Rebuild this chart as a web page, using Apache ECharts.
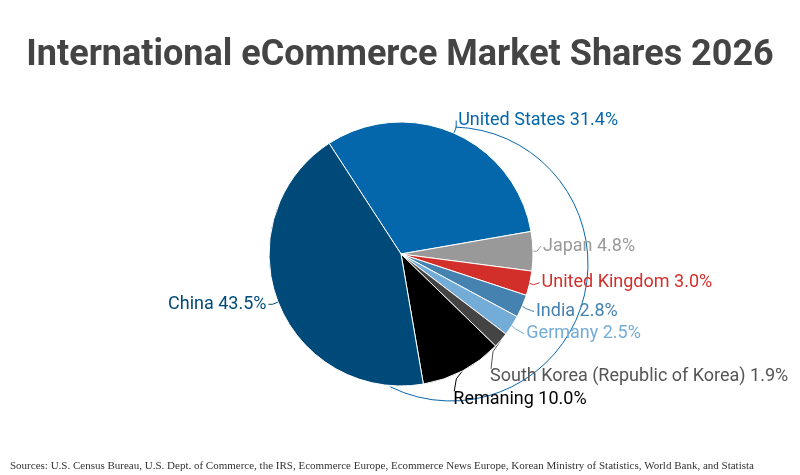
<!DOCTYPE html>
<html>
<head>
<meta charset="utf-8">
<script src="https://cdn.jsdelivr.net/npm/echarts@6/dist/echarts.min.js"></script>
<style>
  html, body { margin: 0; padding: 0; background: #fff; }
  #chart { width: 800px; height: 475px; }
</style>
</head>
<body>
<div id="chart"></div>
<script>
// market shares, clockwise from the top-left
const countries = ['United States', 'Japan', 'United Kingdom', 'India', 'Germany',
  'South Korea (Republic of Korea)', 'Remaning', 'China'];
const shares = [31.4, 4.8, 3.0, 2.8, 2.5, 1.9, 10.0, 43.5];
const sliceColors = ['#0567ab', '#999999', '#d32f2a', '#4682b0', '#74acd8', '#444444', '#000000', '#004a7a'];
const labelColors = ['#0567ab', '#999999', '#d32f2a', '#4682b0', '#74acd8', '#555555', '#000000', '#004a7a'];

const chart = echarts.init(document.getElementById('chart'));

const cx = 401, cy = 254, radius = 132;

// nudges for labels, to sit them where the original put them
const labelNudge = {
  0: [-4, -7],
  1: [0, -5],
  2: [2, -2],
  3: [4, 3],
  4: [5, 5],
  5: [-16, 28],
  6: [-18, 23]
};

chart.setOption({
  animation: false,
  title: [{
    text: 'International eCommerce Market Shares 2026',
    left: 'center',
    top: 33,
    textStyle: { fontFamily: 'Roboto', fontSize: 36, fontWeight: 'bold', color: '#444444' }
  }, {
    text: 'Sources: U.S. Census Bureau, U.S. Dept. of Commerce, the IRS, Ecommerce Europe, Ecommerce News Europe, Korean Ministry of Statistics, World Bank, and Statista',
    left: 5,
    top: 456,
    textStyle: { fontFamily: 'Liberation Serif', fontSize: 11, fontWeight: 'normal', color: '#333333' }
  }],
  // the odd curved leader of the United States label in the original
  graphic: [{
    type: 'arc',
    shape: { cx: cx + 50, cy: cy + 10, r: 137, startAngle: -1.54, endAngle: 2.03, clockwise: true },
    style: { stroke: '#0567ab', lineWidth: 1, fill: null },
    silent: true
  }],
  series: [{
    type: 'pie',
    center: [cx, cy],
    radius: radius,
    startAngle: 123,
    clockwise: true,
    avoidLabelOverlap: true,
    itemStyle: { borderColor: '#ffffff', borderWidth: 1 },
    label: {
      fontFamily: 'Roboto',
      fontSize: 18,
      overflow: 'none',
      distanceToLabelLine: 2,
      formatter: p => p.name + ' ' + p.value.toFixed(1) + '%'
    },
    labelLine: { length: 6, length2: 4, lineStyle: { width: 1 } },
    labelLayout: function (params) {
      const n = labelNudge[params.dataIndex];
      if (!n) return {};
      const out = { dx: n[0], dy: n[1] };
      const pts = params.labelLinePoints;
      if (!pts) return out;
      if (n[1] > 10) {
        // drop the leader down to the top-left corner of the moved label
        const r = params.labelRect;
        const endX = r.x + n[0] + 1;
        const endY = r.y + n[1] + 1;
        out.labelLinePoints = [pts[0], [endX + 2, pts[0][1] + (endY - pts[0][1]) * 0.4], [endX, endY]];
      } else {
        const last = pts[pts.length - 1];
        out.labelLinePoints = pts.slice(0, -1).concat([[last[0] + n[0], last[1] + n[1]]]);
      }
      return out;
    },
    data: countries.map((name, i) => ({
      name: name,
      value: shares[i],
      itemStyle: { color: sliceColors[i] },
      label: { color: labelColors[i] },
      labelLine: { lineStyle: { color: labelColors[i] } }
    }))
  }]
});
</script>
</body>
</html>
